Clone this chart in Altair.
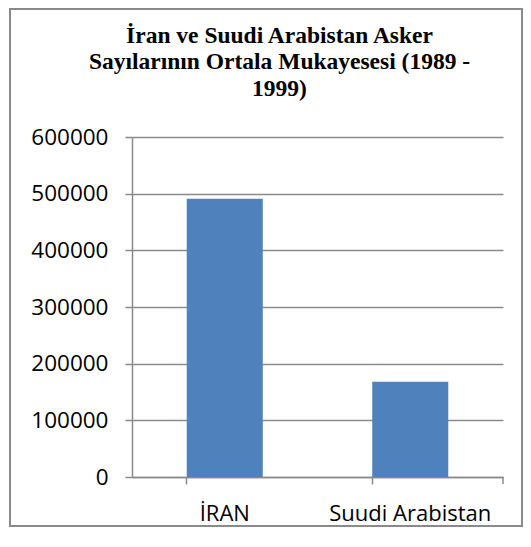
import altair as alt
import pandas as pd

countries = ["İRAN", "Suudi Arabistan"]
soldiers = [491000, 168000]
y_ticks = [0, 100000, 200000, 300000, 400000, 500000, 600000]
title_lines = ["İran ve Suudi Arabistan Asker",
               "Sayılarının Ortala Mukayesesi (1989 -",
               "1999)"]

W, H = 371, 340
GRAY = "#8a8a8a"

df = pd.DataFrame({"ulke": countries, "asker": soldiers})

frame = alt.Chart(pd.DataFrame({"a": [0]})).mark_rect(
    fill="white", fillOpacity=0, stroke=GRAY, strokeWidth=2
).encode(
    x=alt.value(-122), x2=alt.value(W + 19),
    y=alt.value(-128), y2=alt.value(H + 49)
)

bars = alt.Chart(df).mark_bar(color="#4F81BD").encode(
    x=alt.X("ulke:N", sort=countries, title=None,
            scale=alt.Scale(paddingInner=0.59, paddingOuter=0.295),
            axis=alt.Axis(labelAngle=0, bandPosition=0, ticks=True, tickSize=7,
                          labelPadding=19, grid=False, labelFontSize=22)),
    y=alt.Y("asker:Q", title=None,
            scale=alt.Scale(domain=[0, 600000], nice=False),
            axis=alt.Axis(values=y_ticks, format="d", tickSize=7,
                          labelPadding=17, grid=True, labelFontSize=22.5))
)

end_tick = alt.Chart(pd.DataFrame({"a": [0]})).mark_rule(
    color=GRAY, strokeWidth=1.5
).encode(x=alt.value(W), y=alt.value(H), y2=alt.value(H + 7))

chart = alt.layer(frame, bars, end_tick).properties(
    width=W, height=H,
    padding={"left": 124, "top": 129, "right": 20, "bottom": 50},
    autosize=alt.AutoSizeParams(type="none"),
    title=alt.TitleParams(text=title_lines, font="Liberation Serif", fontSize=23.5,
                          fontWeight="bold", color="black", anchor="middle",
                          frame="group", dx=-38, offset=-92, lineHeight=26.5)
).configure_view(stroke=None).configure_axis(
    domainColor=GRAY, domainWidth=1.5, tickColor=GRAY, tickWidth=1.5,
    gridColor=GRAY, gridWidth=1.5, gridOpacity=1,
    labelFont="Open Sans", labelColor="black"
)

chart.save("out.html", embed_options={"renderer": "svg", "actions": False})
